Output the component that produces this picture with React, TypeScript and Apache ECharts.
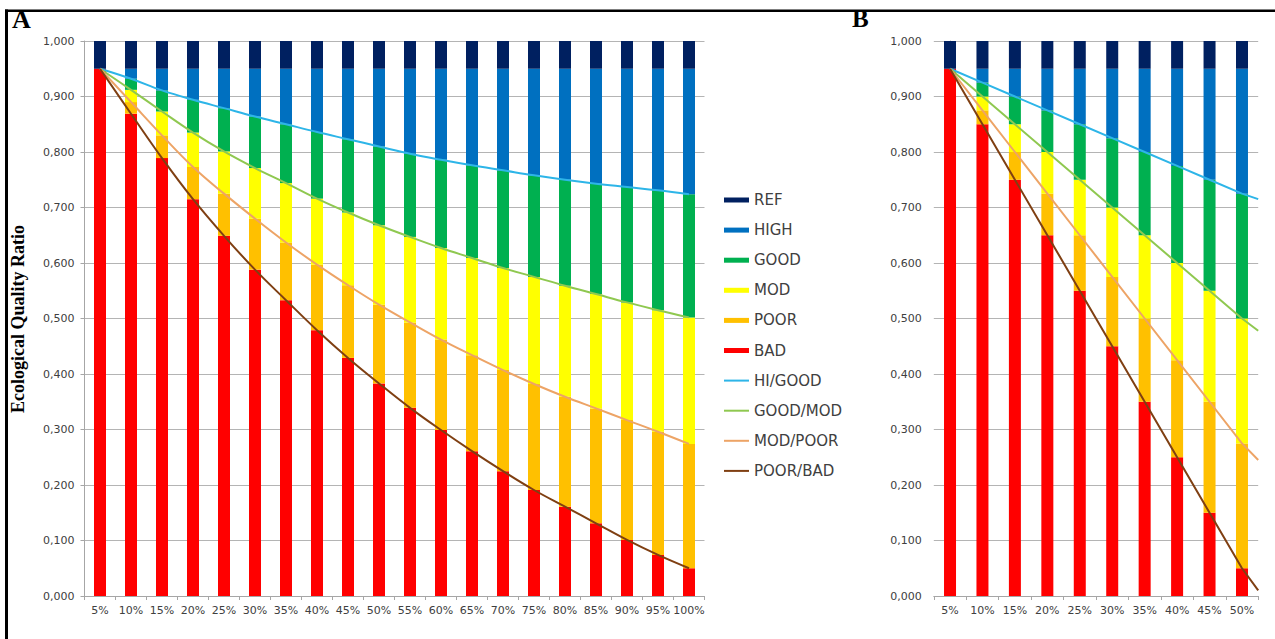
import React, { useEffect, useRef } from 'react';
import * as echarts from 'echarts';

// ---------- data ----------
const categoriesA = ['5%', '10%', '15%', '20%', '25%', '30%', '35%', '40%', '45%', '50%', '55%', '60%', '65%', '70%', '75%', '80%', '85%', '90%', '95%', '100%'];
const categoriesB = ['5%', '10%', '15%', '20%', '25%', '30%', '35%', '40%', '45%', '50%'];

const refTop = 1.0;
const highTop = 0.95;

// Panel A class boundaries (upper limit of the class below)
const hiGoodA = [0.95, 0.932, 0.911, 0.894, 0.879, 0.864, 0.85, 0.836, 0.823, 0.81, 0.797, 0.786, 0.776, 0.767, 0.758, 0.75, 0.743, 0.737, 0.731, 0.724];
const goodModA = [0.95, 0.912, 0.873, 0.835, 0.801, 0.771, 0.744, 0.716, 0.691, 0.668, 0.647, 0.627, 0.609, 0.591, 0.575, 0.559, 0.544, 0.529, 0.515, 0.502];
const modPoorA = [0.95, 0.89, 0.83, 0.773, 0.725, 0.68, 0.637, 0.597, 0.56, 0.525, 0.493, 0.462, 0.434, 0.407, 0.382, 0.359, 0.338, 0.317, 0.296, 0.274];
const poorBadA = [0.95, 0.869, 0.789, 0.715, 0.649, 0.588, 0.533, 0.479, 0.429, 0.383, 0.339, 0.299, 0.261, 0.225, 0.191, 0.161, 0.131, 0.101, 0.074, 0.05];

// Panel B class boundaries
const hiGoodB = [0.95, 0.925, 0.9, 0.875, 0.85, 0.825, 0.8, 0.775, 0.75, 0.725];
const goodModB = [0.95, 0.9, 0.85, 0.8, 0.75, 0.7, 0.65, 0.6, 0.55, 0.5];
const modPoorB = [0.95, 0.875, 0.8, 0.725, 0.65, 0.575, 0.5, 0.425, 0.35, 0.275];
const poorBadB = [0.95, 0.85, 0.75, 0.65, 0.55, 0.45, 0.35, 0.25, 0.15, 0.05];
// Panel B boundary lines, value read at the right edge of the plot
const edgeB = [0.715, 0.478, 0.245, 0.01];

const classNames = ['REF', 'HIGH', 'GOOD', 'MOD', 'POOR', 'BAD'];
const classColors = ['#002060', '#0070c0', '#00b050', '#ffff00', '#ffc000', '#ff0000'];
const boundaryNames = ['HI/GOOD', 'GOOD/MOD', 'MOD/POOR', 'POOR/BAD'];
const boundaryColors = ['#2db5e8', '#8fc850', '#eda466', '#7f3f12'];

const FONT = '"DejaVu Sans", Verdana, sans-serif';

function r4(v: number) {
  return Math.round(v * 10000) / 10000;
}

function buildBars(g: number, bounds: number[][]) {
  const [hiGood, goodMod, modPoor, poorBad] = bounds;
  const n = poorBad.length;
  const tops = [poorBad, modPoor, goodMod, hiGood, poorBad.map(() => highTop), poorBad.map(() => refTop)];
  const names = ['BAD', 'POOR', 'MOD', 'GOOD', 'HIGH', 'REF'];
  return names.map((name, k) => {
    const data = [] as number[];
    for (let i = 0; i < n; i++) {
      const lower = k === 0 ? 0 : tops[k - 1][i];
      data.push(r4(tops[k][i] - lower));
    }
    return {
      name,
      type: 'bar',
      stack: 'stack' + g,
      xAxisIndex: g,
      yAxisIndex: g,
      barWidth: 12,
      data,
      itemStyle: { color: classColors[classNames.indexOf(name)] },
    };
  });
}

const fmt = (v: number) => v.toFixed(3).replace('.', ',');

function yAxisCfg(g: number, margin: number) {
  return {
    type: 'value',
    gridIndex: g,
    min: 0,
    max: 1,
    interval: 0.1,
    axisLine: { show: true, lineStyle: { color: '#a6a6a6', width: 1 } },
    axisTick: { show: true, length: 4, lineStyle: { color: '#a6a6a6' } },
    axisLabel: { formatter: fmt, color: '#404040', fontFamily: FONT, fontSize: 11, margin },
    splitLine: { show: true, lineStyle: { color: '#b4b4b4', width: 1 } },
  };
}

function xCatCfg(g: number, cats: string[]) {
  return {
    type: 'category',
    gridIndex: g,
    data: cats,
    axisLine: { show: true, lineStyle: { color: '#a6a6a6', width: 1 } },
    axisTick: { show: true, length: 4, lineStyle: { color: '#a6a6a6' } },
    axisLabel: { color: '#404040', fontFamily: FONT, fontSize: 11, margin: 9, interval: 0 },
    splitLine: { show: false },
  };
}

export default function App() {
  const ref = useRef<HTMLDivElement>(null);

  useEffect(() => {
    if (!ref.current) return;
    const chart = echarts.init(ref.current, undefined, { renderer: 'svg' });

    const boundsA = [hiGoodA, goodModA, modPoorA, poorBadA];
    const boundsB = [hiGoodB, goodModB, modPoorB, poorBadB];

    const linesA = boundaryNames.map((name, k) => ({
      name,
      type: 'line',
      xAxisIndex: 0,
      yAxisIndex: 0,
      data: boundsA[k],
      symbol: 'none',
      smooth: 0.4,
      lineStyle: { color: boundaryColors[k], width: 2 },
      itemStyle: { color: boundaryColors[k] },
      z: 5,
    }));

    const linesB = boundaryNames.map((name, k) => ({
      name,
      type: 'line',
      xAxisIndex: 2,
      yAxisIndex: 1,
      data: boundsB[k].map((v, i) => [i, v]).concat([[categoriesB.length - 0.5, edgeB[k]]]),
      symbol: 'none',
      lineStyle: { color: boundaryColors[k], width: 2 },
      itemStyle: { color: boundaryColors[k] },
      z: 5,
    }));

    const option = {
      animation: false,
      backgroundColor: '#ffffff',
      grid: [
        { left: 84.5, top: 41, width: 620, height: 555, containLabel: false },
        { left: 933.8, top: 41, width: 324.4, height: 555, containLabel: false },
      ],
      xAxis: [
        xCatCfg(0, categoriesA),
        xCatCfg(1, categoriesB),
        { type: 'value', gridIndex: 1, min: -0.5, max: categoriesB.length - 0.5, show: false, splitLine: { show: false } },
      ],
      yAxis: [yAxisCfg(0, 10), yAxisCfg(1, 12)],
      legend: {
        orient: 'vertical',
        left: 723,
        top: 191,
        padding: 0,
        itemWidth: 25,
        itemHeight: 5,
        itemGap: 12.1,
        selectedMode: false,
        textStyle: { color: '#404040', fontFamily: FONT, fontSize: 15, lineHeight: 18 },
        data: [
          ...classNames.map((n) => ({ name: n, icon: 'rect' })),
          ...boundaryNames.map((n) => ({ name: n, itemStyle: { opacity: 0, borderWidth: 0 } })),
        ],
      },
      graphic: [
        { type: 'rect', shape: { x: 5, y: 9.5, width: 1270, height: 2.5 }, style: { fill: '#000' }, z: 100 },
        { type: 'rect', shape: { x: 5, y: 9.5, width: 3, height: 630 }, style: { fill: '#000' }, z: 100 },
        { type: 'text', x: 12, y: 32, style: { text: 'A', font: 'bold 26px "Liberation Serif", "Times New Roman", serif', fill: '#000', textVerticalAlign: 'bottom' } },
        { type: 'text', x: 852, y: 31, style: { text: 'B', font: 'bold 25px "Liberation Serif", "Times New Roman", serif', fill: '#000', textVerticalAlign: 'bottom' } },
        {
          type: 'text',
          x: 18,
          y: 319,
          rotation: Math.PI / 2,
          style: {
            text: 'Ecological Quality Ratio',
            font: 'bold 18px "Liberation Serif", "Times New Roman", serif',
            fill: '#000',
            textAlign: 'center',
            textVerticalAlign: 'middle',
          },
        },
      ],
      series: [...buildBars(0, boundsA), ...buildBars(1, boundsB), ...linesA, ...linesB],
    };

    chart.setOption(option as any);
    return () => chart.dispose();
  }, []);

  return <div ref={ref} style={{ position: 'fixed', left: 0, top: 0, width: 1275, height: 639 }} />;
}
